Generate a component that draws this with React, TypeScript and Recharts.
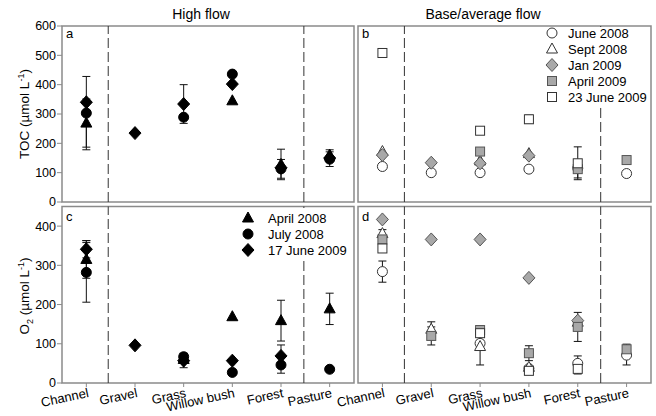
import React from "react";
import { ScatterChart, Scatter, XAxis, YAxis, ErrorBar, ReferenceLine, ReferenceArea, Legend } from "recharts";

const font = "'Liberation Sans', Arial, sans-serif";

const categories = ["Channel", "Gravel", "Grass", "Willow bush", "Forest", "Pasture"];
const catTicks = [0.5, 1.5, 2.5, 3.5, 4.5, 5.5];
const tocTicks = [0, 100, 200, 300, 400, 500, 600];
const o2Ticks = [0, 100, 200, 300, 400];

const highFlowDates = ["April 2008", "July 2008", "17 June 2009"];
const baseFlowDates = ["June 2008", "Sept 2008", "Jan 2009", "April 2009", "23 June 2009"];

// a: TOC, high flow
const tocHighApr08 = [269, null, null, 345, 128, 160];
const tocHighApr08Err = [82, null, null, null, 52, 18];
const tocHighJul08 = [303, null, 289, 436, 113, 146];
const tocHighJul08Err = [125, null, null, null, 32, 25];
const tocHighJun09 = [340, 235, 334, 402, 117, 150];
const tocHighJun09Err = [null, null, 66, null, null, null];

// b: TOC, base/average flow
const tocBaseJun08 = [121, 100, 100, 112, 115, 97];
const tocBaseSep08 = [172, null, 140, 165, null, null];
const tocBaseJan09 = [160, 134, 132, 158, null, null];
const tocBaseApr09 = [null, null, 172, null, 112, 143];
const tocBaseApr09Err = [null, null, null, null, 30, null];
const tocBaseJun09 = [508, null, 243, 282, 132, null];
const tocBaseJun09Err = [null, null, 6, 14, 56, null];

// c: O2, high flow
const o2HighApr08 = [315, null, 60, 169, 159, 189];
const o2HighApr08Err = [48, null, null, null, 52, 40];
const o2HighJul08 = [282, null, 67, 27, 46, 35];
const o2HighJul08Err = [76, null, 9, null, 21, null];
const o2HighJun09 = [341, 96, 57, 57, 69, null];
const o2HighJun09Err = [22, null, 18, null, 28, null];

// d: O2, base/average flow
const o2BaseJun08 = [284, null, 101, 37, 50, 71];
const o2BaseJun08Err = [27, null, null, null, 19, 25];
const o2BaseSep08 = [381, 137, 93, 40, 155, null];
const o2BaseSep08Err = [10, 19, 47, null, null, null];
const o2BaseJan09 = [417, 366, 366, 268, 159, null];
const o2BaseApr09 = [366, 120, 135, 76, 143, 86];
const o2BaseApr09Err = [null, 23, 10, 19, 37, 13];
const o2BaseJun09 = [343, null, 127, 31, 36, null];
const o2BaseJun09Err = [null, null, 18, null, 13, null];

const pts = (vals: (number | null)[], errs?: (number | null)[]) =>
  vals.flatMap((v, i) => (v == null ? [] : [{ x: catTicks[i], y: v, err: errs?.[i] ?? undefined }]));

type Kind =
  | "triBlack" | "circleBlack" | "diamondBlack"
  | "circleOpen" | "triOpen" | "diamondGray" | "squareGray" | "squareOpen";

function drawMarker(kind: Kind, cx: number, cy: number, key?: string) {
  const black = { fill: "#000", stroke: "#000", strokeWidth: 1 };
  const open = { fill: "#fff", stroke: "#333", strokeWidth: 1 };
  const gray = { fill: "#a8a8a8", stroke: "#555", strokeWidth: 1 };
  switch (kind) {
    case "triBlack":
      return <polygon key={key} points={`${cx},${cy - 6} ${cx - 5.5},${cy + 4} ${cx + 5.5},${cy + 4}`} {...black} />;
    case "triOpen":
      return <polygon key={key} points={`${cx},${cy - 6} ${cx - 5.5},${cy + 4} ${cx + 5.5},${cy + 4}`} {...open} />;
    case "circleBlack":
      return <circle key={key} cx={cx} cy={cy} r={5} {...black} />;
    case "circleOpen":
      return <circle key={key} cx={cx} cy={cy} r={5} {...open} />;
    case "diamondBlack":
      return <polygon key={key} points={`${cx},${cy - 6.5} ${cx + 6},${cy} ${cx},${cy + 6.5} ${cx - 6},${cy}`} {...black} />;
    case "diamondGray":
      return <polygon key={key} points={`${cx},${cy - 6.5} ${cx + 6},${cy} ${cx},${cy + 6.5} ${cx - 6},${cy}`} {...gray} />;
    case "squareGray":
      return <rect key={key} x={cx - 4.5} y={cy - 4.5} width={9} height={9} {...gray} />;
    case "squareOpen":
      return <rect key={key} x={cx - 4.5} y={cy - 4.5} width={9} height={9} {...open} />;
  }
}

type Series = { name: string; kind: Kind; data: { x: number; y: number; err?: number }[] };

const highKinds: Kind[] = ["triBlack", "circleBlack", "diamondBlack"];
const baseKinds: Kind[] = ["circleOpen", "triOpen", "diamondGray", "squareGray", "squareOpen"];

const panelA: Series[] = [
  { name: highFlowDates[0], kind: "triBlack", data: pts(tocHighApr08, tocHighApr08Err) },
  { name: highFlowDates[1], kind: "circleBlack", data: pts(tocHighJul08, tocHighJul08Err) },
  { name: highFlowDates[2], kind: "diamondBlack", data: pts(tocHighJun09, tocHighJun09Err) },
];
const panelB: Series[] = [
  { name: baseFlowDates[0], kind: "circleOpen", data: pts(tocBaseJun08) },
  { name: baseFlowDates[1], kind: "triOpen", data: pts(tocBaseSep08) },
  { name: baseFlowDates[2], kind: "diamondGray", data: pts(tocBaseJan09) },
  { name: baseFlowDates[3], kind: "squareGray", data: pts(tocBaseApr09, tocBaseApr09Err) },
  { name: baseFlowDates[4], kind: "squareOpen", data: pts(tocBaseJun09, tocBaseJun09Err) },
];
const panelC: Series[] = [
  { name: highFlowDates[0], kind: "triBlack", data: pts(o2HighApr08, o2HighApr08Err) },
  { name: highFlowDates[1], kind: "circleBlack", data: pts(o2HighJul08, o2HighJul08Err) },
  { name: highFlowDates[2], kind: "diamondBlack", data: pts(o2HighJun09, o2HighJun09Err) },
];
const panelD: Series[] = [
  { name: baseFlowDates[0], kind: "circleOpen", data: pts(o2BaseJun08, o2BaseJun08Err) },
  { name: baseFlowDates[1], kind: "triOpen", data: pts(o2BaseSep08, o2BaseSep08Err) },
  { name: baseFlowDates[2], kind: "diamondGray", data: pts(o2BaseJan09) },
  { name: baseFlowDates[3], kind: "squareGray", data: pts(o2BaseApr09, o2BaseApr09Err) },
  { name: baseFlowDates[4], kind: "squareOpen", data: pts(o2BaseJun09, o2BaseJun09Err) },
];

const CatTick = (props: any) => {
  const { x, y, payload } = props;
  const label = categories[Math.round(payload.value - 0.5)];
  const tx = x + 3;
  const ty = y + 8;
  return (
    <text x={tx} y={ty} textAnchor="end" transform={`rotate(-12 ${tx} ${ty})`} fontSize={13} fontFamily={font} fill="#000">
      {label}
    </text>
  );
};

type LegendSpec = { labels: string[]; kinds: Kind[]; left: number; top: number; width: number; symX: number; textX: number; rowY0: number; rowH: number };

function LegendBox({ spec }: { spec: LegendSpec }) {
  const h = spec.rowY0 + spec.rowH * (spec.labels.length - 1) + 10;
  return (
    <svg width={spec.width} height={h} style={{ display: "block", background: "#fff" }}>
      {spec.labels.map((l, i) => {
        const cy = spec.rowY0 + i * spec.rowH;
        return (
          <g key={l}>
            {drawMarker(spec.kinds[i], spec.symX, cy)}
            <text x={spec.textX} y={cy + 4.5} fontSize={13} fontFamily={font} fill="#000">{l}</text>
          </g>
        );
      })}
    </svg>
  );
}

type PanelProps = {
  left: number; right: number; top: number; bottom: number;
  yMax: number; yTicks: number[]; yLabels: boolean; xLabels: boolean;
  series: Series[]; legend?: LegendSpec;
};

function Panel({ left, right, top, bottom, yMax, yTicks, yLabels, xLabels, series, legend }: PanelProps) {
  const xh = xLabels ? 30 : 8;
  const yw = yLabels ? 30 : 6;
  const frame = "#8a8a8a";
  return (
    <div style={{ position: "absolute", left: 0, top: 0 }}>
      <ScatterChart
        width={656}
        height={416}
        margin={{ top, right: 656 - right, bottom: 416 - bottom - xh, left: left - yw }}
      >
        <XAxis
          type="number"
          dataKey="x"
          domain={[0, 6]}
          ticks={catTicks}
          interval={0}
          height={xh}
          axisLine={false}
          tickLine={{ stroke: frame }}
          tickSize={4}
          tick={xLabels ? <CatTick /> : false}
        />
        <YAxis
          type="number"
          dataKey="y"
          domain={[0, yMax]}
          ticks={yTicks}
          width={yw}
          axisLine={false}
          tickLine={{ stroke: frame }}
          tickSize={yLabels ? 5 : 3}
          tickMargin={1}
          tick={yLabels ? { fontSize: 12.5, fill: "#000", fontFamily: font } : false}
        />
        <ReferenceArea x1={0} x2={6} y1={0} y2={yMax} fill="none" stroke={frame} strokeWidth={1.5} ifOverflow="visible" />
        <ReferenceLine x={0.95} stroke="#333" strokeDasharray="10 4" />
        <ReferenceLine x={4.97} stroke="#333" strokeDasharray="10 4" />
        {series.map((s) => (
          <Scatter
            key={s.name}
            name={s.name}
            data={s.data}
            isAnimationActive={false}
            shape={(p: any) => drawMarker(s.kind, p.cx, p.cy)}
          >
            <ErrorBar dataKey="err" direction="y" width={4} stroke="#111" strokeWidth={1} />
          </Scatter>
        ))}
        {legend && (
          <Legend
            layout="horizontal"
            verticalAlign="middle"
            align="center"
            wrapperStyle={{ left: legend.left, top: legend.top, width: legend.width, height: "auto" }}
            content={() => <LegendBox spec={legend} />}
          />
        )}
      </ScatterChart>
    </div>
  );
}

const legendB: LegendSpec = { labels: baseFlowDates, kinds: baseKinds, left: 541, top: 27, width: 108, symX: 11, textX: 27, rowY0: 6, rowH: 16 };
const legendC: LegendSpec = { labels: highFlowDates, kinds: highKinds, left: 238, top: 208, width: 112, symX: 10, textX: 30, rowY0: 10, rowH: 16 };

export default function App() {
  return (
    <div style={{ position: "absolute", left: 0, top: 0, width: 656, height: 416, background: "#fff", overflow: "hidden" }}>
      <Panel left={62} right={354} top={26} bottom={202} yMax={600} yTicks={tocTicks} yLabels xLabels={false} series={panelA} />
      <Panel left={358} right={651} top={26} bottom={202} yMax={600} yTicks={tocTicks} yLabels={false} xLabels={false} series={panelB} legend={legendB} />
      <Panel left={62} right={354} top={206.5} bottom={383} yMax={450} yTicks={o2Ticks} yLabels xLabels series={panelC} legend={legendC} />
      <Panel left={358} right={651} top={206.5} bottom={383} yMax={450} yTicks={o2Ticks} yLabels={false} xLabels series={panelD} />
      <svg width={656} height={416} style={{ position: "absolute", left: 0, top: 0, pointerEvents: "none" }} fontFamily={font}>
        <text x={201} y={19} textAnchor="middle" fontSize={14}>High flow</text>
        <text x={483} y={19} textAnchor="middle" fontSize={14}>Base/average flow</text>
        <text x={66} y={38} fontSize={13}>a</text>
        <text x={362} y={38} fontSize={13}>b</text>
        <text x={66} y={221} fontSize={13}>c</text>
        <text x={362} y={221} fontSize={13}>d</text>
        <text transform="rotate(-90)" x={-114} y={29} textAnchor="middle" fontSize={13.5}>
          TOC (µmol L<tspan dy={-5} fontSize={9}>-1</tspan><tspan dy={5}>)</tspan>
        </text>
        <text transform="rotate(-90)" x={-296} y={29} textAnchor="middle" fontSize={13.5}>
          O<tspan dy={4} fontSize={9}>2</tspan><tspan dy={-4}> (µmol L</tspan><tspan dy={-5} fontSize={9}>-1</tspan><tspan dy={5}>)</tspan>
        </text>
      </svg>
    </div>
  );
}
